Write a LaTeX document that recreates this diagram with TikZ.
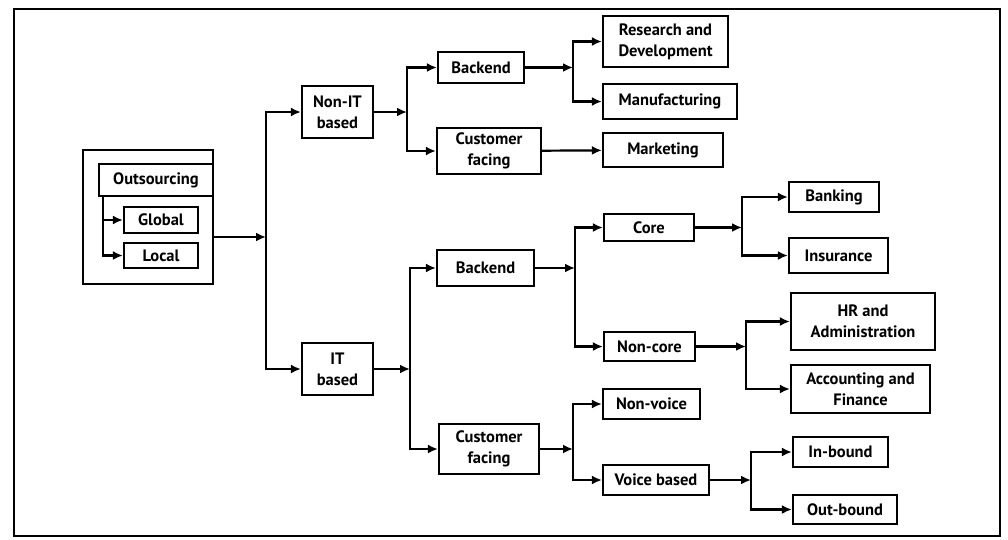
\documentclass[tikz,border=0pt]{standalone}
\usepackage{fontspec}
\setmainfont{PT Sans}
\usetikzlibrary{arrows.meta}
\begin{document}
\begin{tikzpicture}[x=1pt,y=-1pt,
  box/.style={draw, line width=2.2pt, inner sep=0pt, align=center, font=\fontsize{16.5}{21}\selectfont\bfseries},
  arr/.style={line width=2.2pt, -{Latex[length=10pt,width=9pt]}},
  ln/.style={line width=2.2pt, line cap=rect}]
\useasboundingbox (0,0) rectangle (1008,539);
\draw[line width=2.2pt] (14,9) rectangle (1000,536);
% boxes
\node[box, minimum width=130pt, minimum height=134pt] (outer) at (148,217) {};
\node[box, minimum width=114pt, minimum height=32pt] (title) at (156,180) {Outsourcing};
\node[box, minimum width=74pt, minimum height=26pt] (global) at (161,220) {Global};
\node[box, minimum width=74pt, minimum height=25pt] (local) at (161,255.5) {Local};
\node[box, minimum width=71pt, minimum height=52pt] (nonit) at (337.5,112) {Non-IT\\based};
\node[box, minimum width=71pt, minimum height=52pt] (it) at (337.5,369) {IT\\based};
\node[box, minimum width=86pt, minimum height=31pt] (be1) at (481,67.5) {Backend};
\node[box, minimum width=104pt, minimum height=46pt] (cf1) at (489,151) {Customer\\facing};
\node[box, minimum width=125pt, minimum height=51pt] (rd) at (665.5,41.5) {Research and\\Development};
\node[box, minimum width=134pt, minimum height=35pt] (mf) at (670,101.5) {Manufacturing};
\node[box, minimum width=120pt, minimum height=34pt] (mk) at (663,150) {Marketing};
\node[box, minimum width=97pt, minimum height=36pt] (be2) at (485.5,268) {Backend};
\node[box, minimum width=100pt, minimum height=50pt] (cf2) at (489,449) {Customer\\facing};
\node[box, minimum width=90pt, minimum height=27pt] (core) at (649,227.5) {Core};
\node[box, minimum width=91pt, minimum height=29pt] (noncore) at (649.5,346.5) {Non-core};
\node[box, minimum width=90pt, minimum height=30pt] (bank) at (834,197) {Banking};
\node[box, minimum width=99pt, minimum height=35pt] (ins) at (838.5,255.5) {Insurance};
\node[box, minimum width=144pt, minimum height=57pt] (hr) at (863,321.5) {HR and\\Administration};
\node[box, minimum width=139pt, minimum height=48pt] (acc) at (860.5,389) {Accounting and\\Finance};
\node[box, minimum width=97pt, minimum height=30pt] (nonvoice) at (651.5,404) {Non-voice};
\node[box, minimum width=106pt, minimum height=30pt] (voice) at (656,480) {Voice based};
\node[box, minimum width=95pt, minimum height=30pt] (inb) at (840.5,452) {In-bound};
\node[box, minimum width=104pt, minimum height=29pt] (outb) at (845,509.5) {Out-bound};
% junctions
\coordinate (jA) at (103,196);
\coordinate (j0) at (266,237);
\coordinate (j1) at (407,112);
\coordinate (j2) at (573,67.5);
\coordinate (j3) at (410,369);
\coordinate (j4) at (575,268);
\coordinate (j5) at (742,227.5);
\coordinate (j6) at (746,346.5);
\coordinate (j7) at (573,449);
\coordinate (j8) at (751,480);
% outsourcing
\draw[ln] (jA) -- (jA |- local);
\draw[arr] (jA |- global) -- (global);
\draw[arr] (jA |- local) -- (local);
% level 1
\draw[arr] (outer.east |- j0) -- (j0);
\draw[ln] (j0 |- nonit) -- (j0 |- it);
\draw[arr] (j0 |- nonit) -- (nonit);
\draw[arr] (j0 |- it) -- (it);
% non-IT
\draw[arr] (nonit) -- (j1);
\draw[ln] (j1 |- be1) -- (j1 |- cf1);
\draw[arr] (j1 |- be1) -- (be1);
\draw[arr] (j1 |- cf1) -- (cf1);
\draw[arr] (be1) -- (j2);
\draw[ln] (j2 |- rd) -- (j2 |- mf);
\draw[arr] (j2 |- rd) -- (rd);
\draw[arr] (j2 |- mf) -- (mf);
\draw[arr] (cf1) -- (mk);
% IT
\draw[arr] (it) -- (j3);
\draw[ln] (j3 |- be2) -- (j3 |- cf2);
\draw[arr] (j3 |- be2) -- (be2);
\draw[arr] (j3 |- cf2) -- (cf2);
\draw[arr] (be2) -- (j4);
\draw[ln] (j4 |- core) -- (j4 |- noncore);
\draw[arr] (j4 |- core) -- (core);
\draw[arr] (j4 |- noncore) -- (noncore);
\draw[arr] (core) -- (j5);
\draw[ln] (j5 |- bank) -- (j5 |- ins);
\draw[arr] (j5 |- bank) -- (bank);
\draw[arr] (j5 |- ins) -- (ins);
\draw[arr] (noncore) -- (j6);
\draw[ln] (j6 |- hr) -- (j6 |- acc);
\draw[arr] (j6 |- hr) -- (hr);
\draw[arr] (j6 |- acc) -- (acc);
\draw[arr] (cf2) -- (j7);
\draw[ln] (j7 |- nonvoice) -- (j7 |- voice);
\draw[arr] (j7 |- nonvoice) -- (nonvoice);
\draw[arr] (j7 |- voice) -- (voice);
\draw[arr] (voice) -- (j8);
\draw[ln] (j8 |- inb) -- (j8 |- outb);
\draw[arr] (j8 |- inb) -- (inb);
\draw[arr] (j8 |- outb) -- (outb);
\end{tikzpicture}
\end{document}
